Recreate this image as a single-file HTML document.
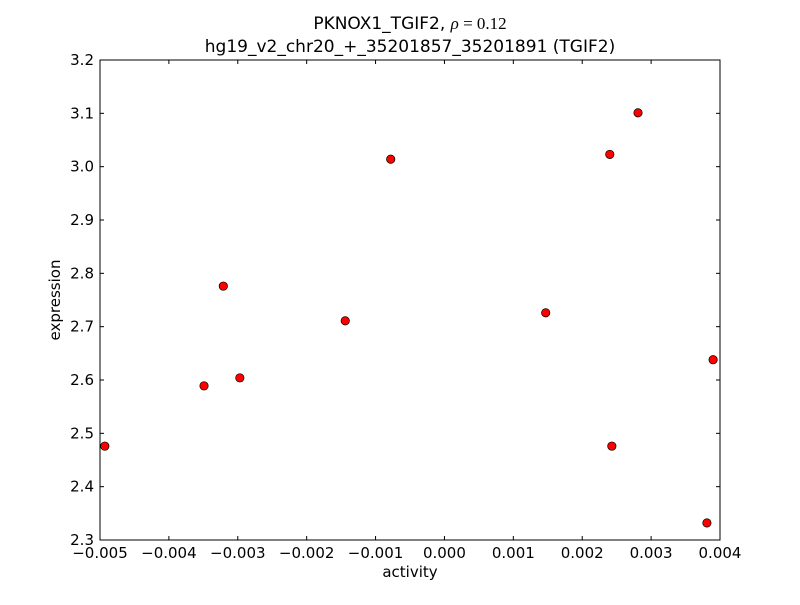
<!DOCTYPE html>
<html><head><meta charset="utf-8"><style>
body{margin:0;background:#fff;}
svg text{font-family:"DejaVu Sans","Liberation Sans",sans-serif;}
</style></head><body>
<svg id="chart" width="800" height="600" xmlns="http://www.w3.org/2000/svg">
<rect width="800" height="600" fill="#fff"/>
<text x="410" y="29" font-size="17" text-anchor="middle">PKNOX1_TGIF2, <tspan font-family="Liberation Serif,serif" font-style="italic">ρ</tspan><tspan font-family="Liberation Serif,serif"> = 0.12</tspan></text>
<text x="410" y="52" font-size="17" text-anchor="middle">hg19_v2_chr20_+_35201857_35201891 (TGIF2)</text>
<g id="ticks"></g>
<g id="points"></g>
<rect x="100" y="60" width="620" height="480" fill="none" stroke="#000" stroke-width="1"/>
<text x="410" y="577" font-size="15" text-anchor="middle">activity</text>
<text transform="translate(60,300) rotate(-90)" font-size="15" text-anchor="middle">expression</text>
</svg>
<script>
const activity=[-0.00493,-0.00349,-0.00321,-0.00297,-0.00144,-0.00078,0.00147,0.00240,0.00243,0.00281,0.00390,0.00381];
const expression=[2.476,2.589,2.776,2.604,2.711,3.014,2.726,3.023,2.476,3.101,2.638,2.332];
const xTicks=[-0.005,-0.004,-0.003,-0.002,-0.001,0,0.001,0.002,0.003,0.004];
const xTickLabels=["\u22120.005","\u22120.004","\u22120.003","\u22120.002","\u22120.001","0.000","0.001","0.002","0.003","0.004"];
const yTicks=[2.3,2.4,2.5,2.6,2.7,2.8,2.9,3.0,3.1,3.2];
const yTickLabels=["2.3","2.4","2.5","2.6","2.7","2.8","2.9","3.0","3.1","3.2"];
const NS="http://www.w3.org/2000/svg";
const X=v=>100+(v+0.005)/0.009*620;
const Y=v=>540-(v-2.3)/0.9*480;
const tg=document.getElementById('ticks'),pg=document.getElementById('points');
function mk(tag,a,p){const e=document.createElementNS(NS,tag);for(const k in a)e.setAttribute(k,a[k]);p.appendChild(e);return e;}
xTicks.forEach((v,i)=>{const x=X(v);
mk('line',{x1:x,x2:x,y1:540,y2:536,stroke:'#000'},tg);
mk('line',{x1:x,x2:x,y1:60,y2:64,stroke:'#000'},tg);
const t=mk('text',{x:x,y:558,'font-size':15,'text-anchor':'middle'},tg);t.textContent=xTickLabels[i];

});
yTicks.forEach((v,i)=>{const y=Y(v);
mk('line',{x1:100,x2:104,y1:y,y2:y,stroke:'#000'},tg);
mk('line',{x1:716,x2:720,y1:y,y2:y,stroke:'#000'},tg);
const t=mk('text',{x:94,y:y+5,'font-size':15,'text-anchor':'end'},tg);t.textContent=yTickLabels[i];

});
activity.forEach((v,i)=>{const c=mk('circle',{cx:X(v),cy:Y(expression[i]),r:4.2,fill:'#f00',stroke:'#000','stroke-width':0.7},pg);

});
</script>
</body></html>
